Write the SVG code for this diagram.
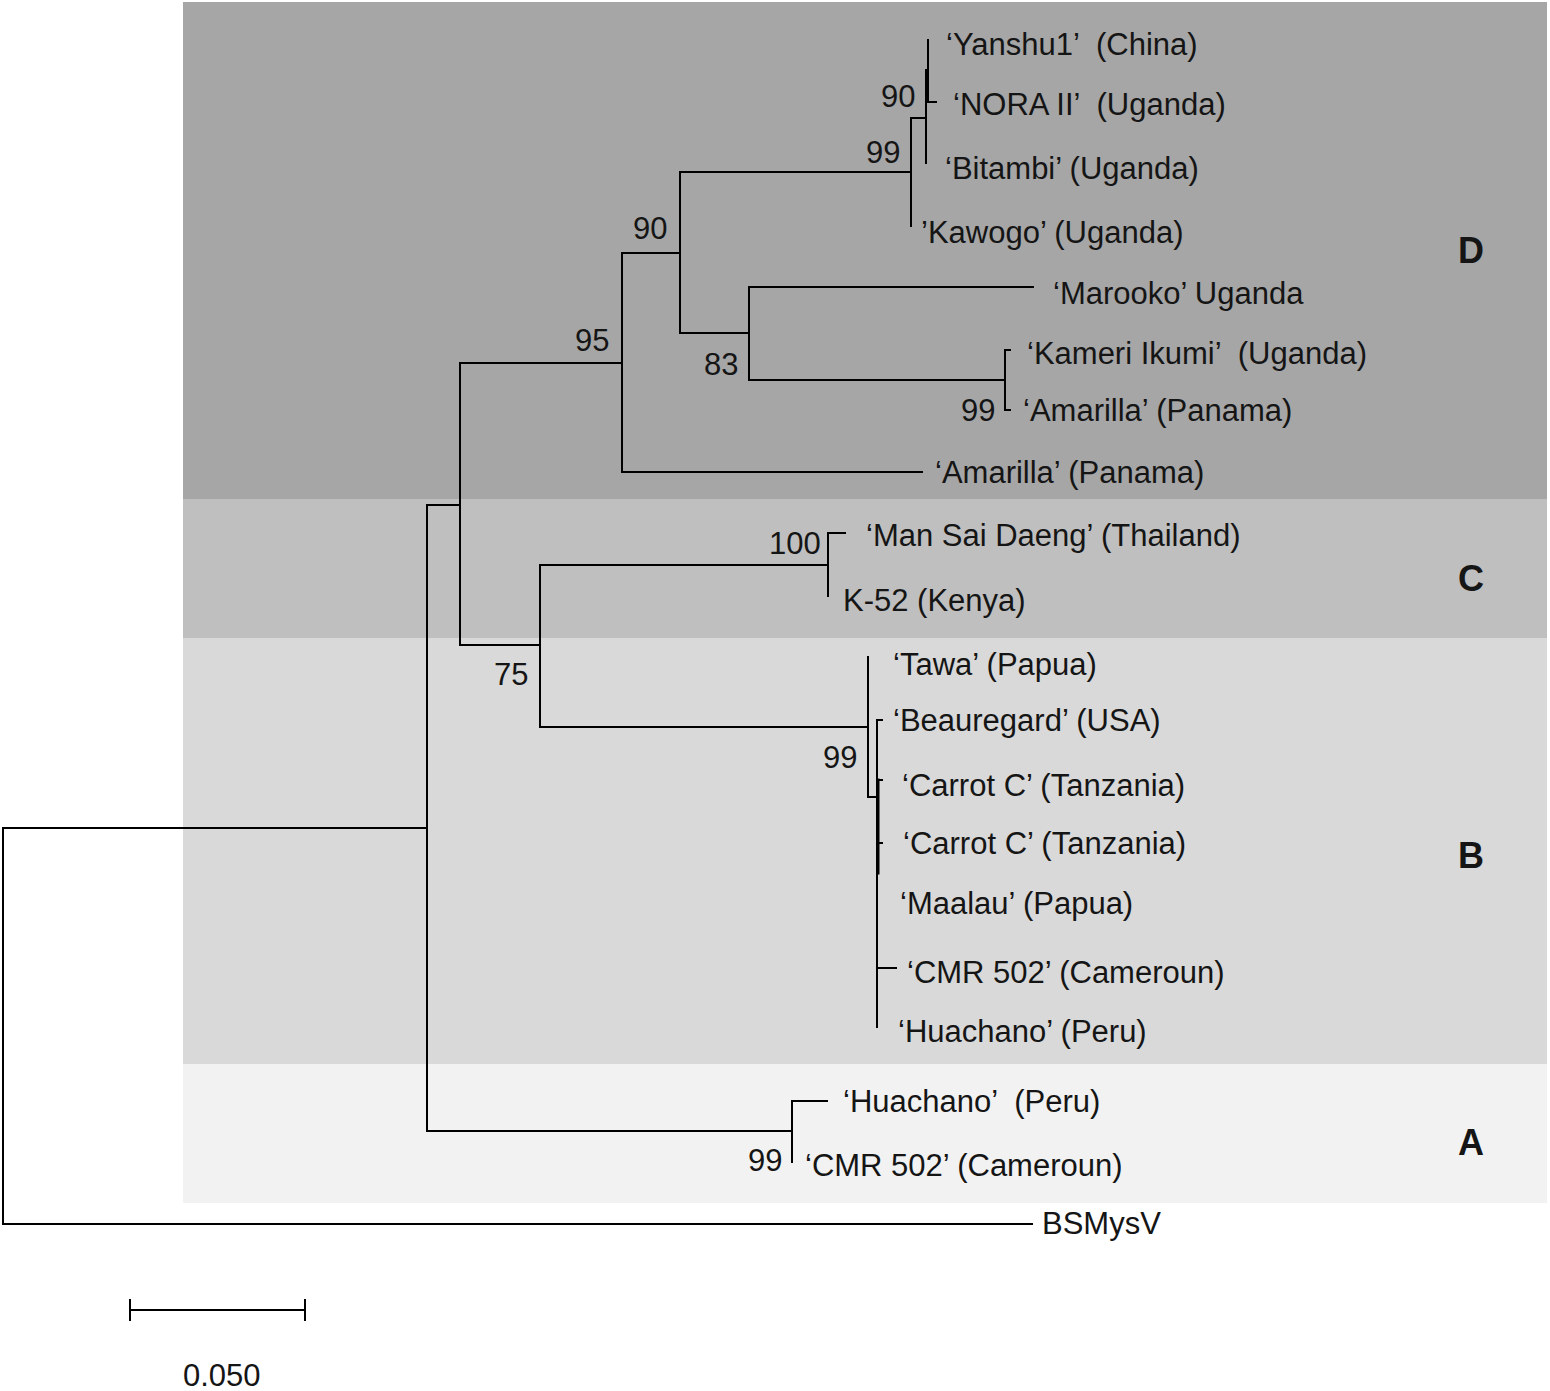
<svg xmlns="http://www.w3.org/2000/svg" width="1550" height="1391" viewBox="0 0 1550 1391">
<style>
.t{font-family:"Liberation Sans",Arial,sans-serif;font-size:31px;fill:#151515;white-space:pre}
.bs{font-family:"Liberation Sans",Arial,sans-serif;font-size:31px;fill:#151515}
.cl{font-family:"Liberation Sans",Arial,sans-serif;font-size:36px;font-weight:bold;fill:#151515;text-anchor:middle}
.e{stroke:#000;stroke-width:2;fill:none;stroke-linecap:square}
</style>
<rect width="1550" height="1391" fill="#fff"/>
<g id="clades">
<rect id="cladeD" x="183" y="2" width="1364" height="497" fill="#a6a6a6"/>
<rect id="cladeC" x="183" y="499" width="1364" height="139" fill="#bfbfbf"/>
<rect id="cladeB" x="183" y="638" width="1364" height="426" fill="#d9d9d9"/>
<rect id="cladeA" x="183" y="1064" width="1364" height="139" fill="#f2f2f2"/>
<text class="cl" x="1471" y="263">D</text>
<text class="cl" x="1471" y="591">C</text>
<text class="cl" x="1471" y="868">B</text>
<text class="cl" x="1471" y="1155">A</text>
</g>
<g id="edges" class="e">
<path d="M3,828 V1224 M3,828 H427 M3,1224 H1032"/>
<path d="M427,505 V1131 M427,505 H460 M427,1131 H792"/>
<path d="M460,363 V645 M460,363 H622 M460,645 H540"/>
<path d="M622,253 V472 M622,253 H680 M622,472 H922"/>
<path d="M680,172 V333 M680,172 H911 M680,333 H749"/>
<path d="M749,287 V380 M749,287 H1033 M749,380 H1005"/>
<path d="M1005,350 V410 M1005,350 H1010 M1005,410 H1010"/>
<path d="M911,118 V226 M911,118 H926"/>
<path d="M926,70 V163 M928,40 V100 M926,102 H936"/>
<path d="M540,565 V727 M540,565 H828 M540,727 H868"/>
<path d="M828,533 V596 M828,533 H845"/>
<path d="M868,657 V797 M868,797 H877"/>
<path d="M877,720 V797 M877,720 H882"/>
<path d="M877,780 V1027 M877,780 H882 M877,843 H882 M877,968 H896"/>
<path d="M878,780 V873" stroke-width="3"/>
<path d="M792,1101 V1162 M792,1101 H827"/>
<path d="M130,1310 H305 M130,1300 V1320 M305,1300 V1320"/>
</g>
<g id="leaves">
<text class="t" x="946" y="55">‘Yanshu1’  (China)</text>
<text class="t" x="953" y="115">‘NORA II’  (Uganda)</text>
<text class="t" x="945" y="179">‘Bitambi’ (Uganda)</text>
<text class="t" x="921" y="243">’Kawogo’ (Uganda)</text>
<text class="t" x="1053" y="304">‘Marooko’ Uganda</text>
<text class="t" x="1027" y="364">‘Kameri Ikumi’  (Uganda)</text>
<text class="t" x="1023" y="421">‘Amarilla’ (Panama)</text>
<text class="t" x="935" y="483">‘Amarilla’ (Panama)</text>
<text class="t" x="866" y="546">‘Man Sai Daeng’ (Thailand)</text>
<text class="t" x="843" y="611">K-52 (Kenya)</text>
<text class="t" x="893" y="675">‘Tawa’ (Papua)</text>
<text class="t" x="893" y="731">‘Beauregard’ (USA)</text>
<text class="t" x="902" y="796">‘Carrot C’ (Tanzania)</text>
<text class="t" x="903" y="854">‘Carrot C’ (Tanzania)</text>
<text class="t" x="900" y="914">‘Maalau’ (Papua)</text>
<text class="t" x="907" y="983">‘CMR 502’ (Cameroun)</text>
<text class="t" x="898" y="1042">‘Huachano’ (Peru)</text>
<text class="t" x="843" y="1112">‘Huachano’  (Peru)</text>
<text class="t" x="805" y="1176">‘CMR 502’ (Cameroun)</text>
<text class="t" x="1042" y="1234">BSMysV</text>
</g>
<g id="bootstrap">
<text class="bs" x="881" y="107">90</text>
<text class="bs" x="866" y="163">99</text>
<text class="bs" x="633" y="239">90</text>
<text class="bs" x="575" y="351">95</text>
<text class="bs" x="704" y="375">83</text>
<text class="bs" x="961" y="421">99</text>
<text class="bs" x="769" y="554">100</text>
<text class="bs" x="494" y="685">75</text>
<text class="bs" x="823" y="768">99</text>
<text class="bs" x="748" y="1171">99</text>
</g>
<g id="scale">
<text class="t" x="183" y="1386">0.050</text>
</g>
</svg>
